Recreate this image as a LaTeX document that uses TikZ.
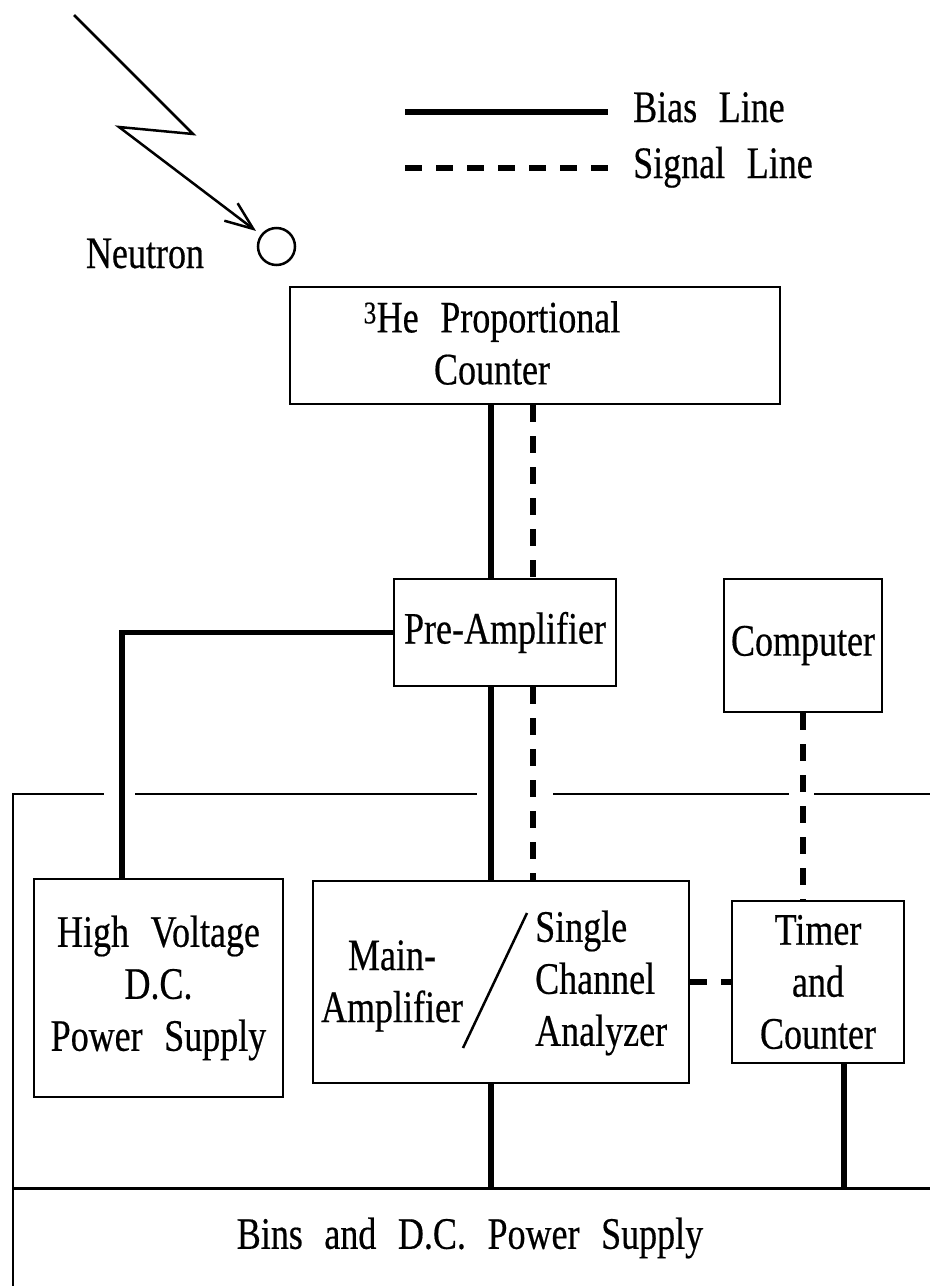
\documentclass[tikz,border=0pt]{standalone}
\usepackage{fontspec}
\setmainfont{Liberation Serif}[FakeStretch=0.8,WordSpace=2.4,FakeBold=0.4]
\usetikzlibrary{arrows.meta,calc}
\begin{document}
\begin{tikzpicture}[x=1pt,y=-1pt,
  lbl/.style={inner sep=0pt,align=center,font=\fontsize{45}{52}\selectfont},
  box/.style={lbl,draw,line width=2.5pt},
  bias/.style={line width=5.5pt},
  signal/.style={line width=5.5pt,dash pattern=on 17pt off 14pt},
  frameline/.style={line width=2pt},
  ray/.style={line width=2.5pt,line join=miter,-{Straight Barb[length=28pt,width=22pt]}}]
\fill[white] (0,0) rectangle (930,1286);
\useasboundingbox (0,0) rectangle (930,1286);

% legend
\coordinate (lb1) at (405,112);
\coordinate (lb2) at (608,112);
\coordinate (ls1) at (405,168);
\coordinate (ls2) at (608,168);
\draw[bias] (lb1) -- (lb2);
\draw[signal] (ls1) -- (ls2);
\node[lbl,anchor=base west] (biaslbl) at (633,122) {Bias Line};
\node[lbl,anchor=base west] (siglbl) at (633,178) {Signal Line};

% neutron
\coordinate (n1) at (74,15);
\coordinate (n2) at (193,134);
\coordinate (n3) at (119,127);
\node[circle,draw,line width=2.5pt,minimum size=37pt,inner sep=0pt] (atom) at (276.5,246.5) {};
\draw[ray,shorten >=6pt] (n1) -- (n2) -- (n3) -- (atom);
\node[lbl,anchor=base] (neutron) at (145,268) {Neutron};

% boxes
\node[box,minimum width=490pt,minimum height=117pt] (he) at (535,345.5) {};
\node[lbl] (helbl) at (492,343) {\textsuperscript{3}He Proportional\\Counter};
\node[box,minimum width=222pt,minimum height=107pt] (pre) at (505,632.5) {Pre-Amplifier};
\node[box,minimum width=158pt,minimum height=133pt] (comp) at (803,645.5) {Computer};
\node[box,minimum width=249pt,minimum height=218pt] (hv) at (158.5,988) {High Voltage\\D.C.\\Power Supply};
\node[box,minimum width=376pt,minimum height=202pt] (main) at (501,982) {};
\node[lbl] (mainlbl) at (392,986) {Main-\\Amplifier};
\node[lbl,align=left,anchor=west] (scalbl) at (535,983) {Single\\Channel\\Analyzer};
\draw[line width=2.5pt] (527,913) -- (463,1048);
\node[box,minimum width=172pt,minimum height=162pt] (timer) at (818,982) {Timer\\and\\Counter};

% bins and enclosure
\node[inner sep=0pt,minimum width=917pt,minimum height=98pt,anchor=north west] (bins) at (13,1188) {};
\node[lbl] (binslbl) at (470,1238) {Bins and D.C. Power Supply};
\draw[line width=3pt] (bins.north west) -- (bins.north east);
\coordinate (e0) at (13,794);
\coordinate (e1) at (104,794);
\coordinate (e2) at (135,794);
\coordinate (e3) at (477,794);
\coordinate (e4) at (553,794);
\coordinate (e5) at (789,794);
\coordinate (e6) at (814,794);
\coordinate (e7) at (930,794);
\coordinate (e8) at (13,1286);
\draw[frameline] (e8) -- (e0) -- (e1);
\draw[frameline] (e2) -- (e3);
\draw[frameline] (e4) -- (e5);
\draw[frameline] (e6) -- (e7);

% connector x positions
\coordinate (xb) at (491,0);
\coordinate (xs) at (533,0);
\coordinate (xt) at (844,0);

\draw[bias] (he.south -| xb) -- (pre.north -| xb);
\draw[signal] (he.south -| xs) -- (pre.north -| xs);
\draw[bias] (pre.south -| xb) -- (main.north -| xb);
\draw[signal] (pre.south -| xs) -- (main.north -| xs);
\draw[bias,line join=miter] (pre.west) -| ($(hv.north west)!0.354!(hv.north east)$);
\draw[signal] (comp.south) -- (comp.south |- timer.north);
\draw[signal] (main.east) -- (main.east -| timer.west);
\draw[bias] (main.south -| xb) -- (bins.north -| xb);
\draw[bias] (timer.south -| xt) -- (bins.north -| xt);
\end{tikzpicture}
\end{document}
